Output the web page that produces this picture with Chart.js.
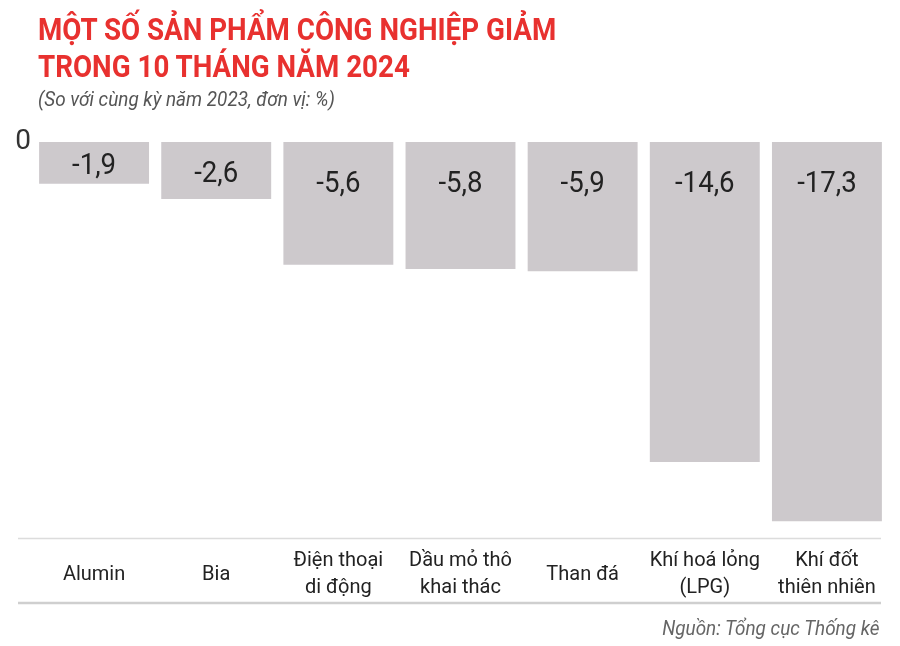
<!DOCTYPE html>
<html>
<head>
<meta charset="utf-8">
<script src="https://cdn.jsdelivr.net/npm/chart.js@4"></script>
<style>
  html, body { margin: 0; padding: 0; background: #fff; }
  #wrap { position: relative; width: 900px; height: 646px; overflow: hidden; }
  canvas { position: absolute; left: 0; top: 0; }
  .title { position: absolute; left: 38px; color: #e8312f; font: bold 31px Roboto, sans-serif;
           transform-origin: left top; transform: scaleX(0.895); white-space: nowrap; }
  .sub { position: absolute; left: 38px; top: 87px; color: #555; font: italic 21px Roboto, sans-serif;
         transform-origin: left top; transform: scaleX(0.9); white-space: nowrap; }
  .src { position: absolute; right: 20px; top: 616px; color: #666; font: italic 21px Roboto, sans-serif;
         transform-origin: right top; transform: scaleX(0.9); white-space: nowrap; }
</style>
</head>
<body>
<div id="wrap">
  <canvas id="barChart" width="900" height="646"></canvas>
  <div class="title" style="top:11px">MỘT SỐ SẢN PHẨM CÔNG NGHIỆP GIẢM</div>
  <div class="title" style="top:48px">TRONG 10 THÁNG NĂM 2024</div>
  <div class="sub">(So với cùng kỳ năm 2023, đơn vị: %)</div>
  <div class="src">Nguồn: Tổng cục Thống kê</div>
</div>
<script>
const categories = [
  'Alumin',
  'Bia',
  ['Điện thoại', 'di động'],
  ['Dầu mỏ thô', 'khai thác'],
  'Than đá',
  ['Khí hoá lỏng', '(LPG)'],
  ['Khí đốt', 'thiên nhiên']
];
const changes = [-1.9, -2.6, -5.6, -5.8, -5.9, -14.6, -17.3];
const yTicks = [0];

// nhãn giá trị trong cột
const valueLabels = {
  id: 'valueLabels',
  afterDatasetsDraw(chart) {
    const ctx = chart.ctx;
    const meta = chart.getDatasetMeta(0);
    ctx.save();
    ctx.fillStyle = '#222';
    ctx.font = '30px Roboto';
    ctx.textAlign = 'center';
    ctx.textBaseline = 'middle';
    meta.data.forEach((bar, i) => {
      const y = Math.min((bar.y + bar.base) / 2, bar.base + 38) + 4;
      ctx.save();
      ctx.translate(bar.x, y);
      ctx.scale(0.92, 1);
      ctx.fillText(changes[i].toFixed(1).replace('.', ','), 0, 0);
      ctx.restore();
    });
    ctx.restore();
  }
};

// hai đường kẻ ngang trên và dưới nhãn
const rules = {
  id: 'rules',
  afterDraw(chart) {
    const ctx = chart.ctx;
    const top = chart.chartArea.bottom;
    ctx.save();
    ctx.strokeStyle = '#dcdcdc';
    ctx.lineWidth = 1.5;
    ctx.beginPath();
    ctx.moveTo(18, top + 0.5);
    ctx.lineTo(881, top + 0.5);
    ctx.stroke();
    ctx.strokeStyle = '#cfcfcf';
    ctx.lineWidth = 2.5;
    ctx.beginPath();
    ctx.moveTo(18, 603);
    ctx.lineTo(881, 603);
    ctx.stroke();
    ctx.restore();
  }
};

new Chart(document.getElementById('barChart'), {
  type: 'bar',
  data: {
    labels: categories,
    datasets: [{
      data: changes,
      backgroundColor: '#cdc9cc',
      borderWidth: 0,
      barPercentage: 0.9,
      categoryPercentage: 1
    }]
  },
  options: {
    responsive: false,
    animation: false,
    layout: { padding: { top: 142, left: 0, right: 12, bottom: 38 } },
    plugins: { legend: { display: false }, tooltip: { enabled: false } },
    scales: {
      x: {
        grid: { display: false },
        border: { display: false },
        ticks: {
          color: '#222',
          font: { family: 'Roboto', size: 20, lineHeight: 1.35 },
          maxRotation: 0,
          autoSkip: false,
          crossAlign: 'center',
          padding: 15
        },
        afterFit(scale) { scale.height = 70; }
      },
      y: {
        min: -18.07,
        max: 0,
        grid: { display: false },
        border: { display: false },
        afterBuildTicks(scale) { scale.ticks = yTicks.map(v => ({ value: v })); },
        ticks: {
          color: '#333',
          font: { family: 'Roboto', size: 28 },
          padding: -6
        },
        afterFit(scale) { scale.width = 33; }
      }
    }
  },
  plugins: [valueLabels, rules]
});
</script>
</body>
</html>
